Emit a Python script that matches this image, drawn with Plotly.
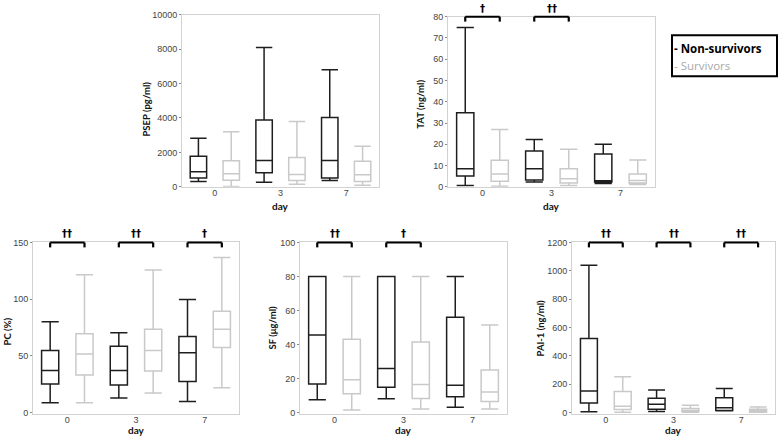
import plotly.graph_objects as go

days = ["0", "3", "7"]

# PSEP (pg/ml)
psep_ns_low = [300, 265, 360]
psep_ns_q1 = [510, 810, 510]
psep_ns_med = [870, 1530, 1530]
psep_ns_q3 = [1780, 3880, 4030]
psep_ns_high = [2820, 8090, 6800]
psep_s_low = [20, 150, 95]
psep_s_q1 = [380, 360, 300]
psep_s_med = [760, 720, 700]
psep_s_q3 = [1520, 1700, 1480]
psep_s_high = [3200, 3800, 2350]

# TAT (ng/ml)
tat_ns_low = [0.6, 2.2, 1.6]
tat_ns_q1 = [5.1, 3.2, 2.2]
tat_ns_med = [8.5, 8.5, 2.8]
tat_ns_q3 = [34.8, 16.8, 15.4]
tat_ns_high = [74.9, 22.3, 20.0]
tat_s_low = [0.2, 0.6, 1.1]
tat_s_q1 = [2.6, 1.8, 1.8]
tat_s_med = [6.0, 3.8, 2.9]
tat_s_q3 = [12.5, 8.5, 6.0]
tat_s_high = [26.9, 17.7, 12.6]

# PC (%)
pc_ns_low = [8.6, 12.9, 9.7]
pc_ns_q1 = [25.2, 24.4, 27.5]
pc_ns_med = [37.2, 37.2, 52.7]
pc_ns_q3 = [54.7, 58.5, 67.0]
pc_ns_high = [80.2, 70.5, 99.7]
pc_s_low = [8.6, 17.2, 21.8]
pc_s_q1 = [33.2, 36.7, 57.3]
pc_s_med = [51.6, 54.7, 73.4]
pc_s_q3 = [69.6, 73.4, 89.4]
pc_s_high = [121.5, 125.8, 136.7]

# SF (ug/ml)
sf_ns_low = [7.5, 8.0, 3.0]
sf_ns_q1 = [16.8, 14.8, 9.3]
sf_ns_med = [45.5, 25.8, 16.0]
sf_ns_q3 = [80, 80, 56]
sf_ns_high = [80, 80, 80]
sf_s_low = [1.5, 2.0, 2.0]
sf_s_q1 = [11.0, 8.2, 6.5]
sf_s_med = [19.3, 16.5, 12.0]
sf_s_q3 = [43.0, 41.5, 25.0]
sf_s_high = [80, 80, 51.5]

# PAI-1 (ng/ml)
pai_ns_low = [5, 7, 12]
pai_ns_q1 = [67, 23, 14]
pai_ns_med = [152, 59, 34]
pai_ns_q3 = [522, 101, 105]
pai_ns_high = [1039, 159, 170]
pai_s_low = [2, 2, 2]
pai_s_q1 = [21, 7, 4]
pai_s_med = [44, 14, 14]
pai_s_q3 = [149, 28, 23]
pai_s_high = [253, 52, 39]

# significance markers per day
psep_sig = ["", "", ""]
tat_sig = ["\u2020", "\u2020\u2020", ""]
pc_sig = ["\u2020\u2020", "\u2020\u2020", "\u2020"]
sf_sig = ["\u2020\u2020", "\u2020", ""]
pai_sig = ["\u2020\u2020", "\u2020\u2020", "\u2020\u2020"]

W, H = 779, 441
NS_COLOR = "#1e1e1e"
S_COLOR = "#c9c9c9"
TITLE_FONT = "Lato"
TICK_FONT = "Liberation Sans"

panels = [
    dict(title="PSEP (pg/ml)", ns=(psep_ns_low, psep_ns_q1, psep_ns_med, psep_ns_q3, psep_ns_high),
         s=(psep_s_low, psep_s_q1, psep_s_med, psep_s_q3, psep_s_high), sig=psep_sig,
         px=(182, 379), py=(10, 186), yr=[0, 10000], dt=2000, tx=147, ty=107, dayy=206),
    dict(title="TAT (ng/ml)", ns=(tat_ns_low, tat_ns_q1, tat_ns_med, tat_ns_q3, tat_ns_high),
         s=(tat_s_low, tat_s_q1, tat_s_med, tat_s_q3, tat_s_high), sig=tat_sig,
         px=(448, 655), py=(12, 186), yr=[0, 80], dt=10, tx=421, ty=102, dayy=206),
    dict(title="PC (%)", ns=(pc_ns_low, pc_ns_q1, pc_ns_med, pc_ns_q3, pc_ns_high),
         s=(pc_s_low, pc_s_q1, pc_s_med, pc_s_q3, pc_s_high), sig=pc_sig,
         px=(33, 239), py=(243, 419), yr=[-1.7, 150], dt=50, tx=7, ty=334, dayy=None),
    dict(title="SF (\u03bcg/ml)", ns=(sf_ns_low, sf_ns_q1, sf_ns_med, sf_ns_q3, sf_ns_high),
         s=(sf_s_low, sf_s_q1, sf_s_med, sf_s_q3, sf_s_high), sig=sf_sig,
         px=(300, 507), py=(243, 419), yr=[-1.2, 100], dt=20, tx=272, ty=331, dayy=None),
    dict(title="PAI-1 (ng/ml)", ns=(pai_ns_low, pai_ns_q1, pai_ns_med, pai_ns_q3, pai_ns_high),
         s=(pai_s_low, pai_s_q1, pai_s_med, pai_s_q3, pai_s_high), sig=pai_sig,
         px=(572, 775), py=(243, 419), yr=[-14, 1200], dt=200, tx=540, ty=331, dayy=None),
]

fig = go.Figure()
shapes = []
annotations = []
layout = {}

for i, p in enumerate(panels, start=1):
    sfx = "" if i == 1 else str(i)
    xa, ya = "x" + sfx, "y" + sfx
    for name, stats, col in (("Non-survivors", p["ns"], NS_COLOR), ("Survivors", p["s"], S_COLOR)):
        low, q1, med, q3, high = stats
        fig.add_trace(go.Box(
            x=days, lowerfence=low, q1=q1, median=med, q3=q3, upperfence=high,
            name=name, xaxis=xa, yaxis=ya, boxpoints=False, whiskerwidth=1,
            line=dict(color=col, width=1.5), fillcolor="rgba(255,255,255,0)",
            showlegend=False, hoverinfo="skip", offsetgroup=name,
        ))
    x0, x1 = p["px"]
    t, b = p["py"]
    layout["xaxis" + sfx] = dict(
        domain=[x0 / W, x1 / W], anchor=ya, type="category", range=[-0.5, 2.5],
        showline=True, mirror=True, linecolor="#d2d2d2", linewidth=1, ticks="",
        ticklabelstandoff=-3,
        showgrid=False, zeroline=False, tickfont=dict(family=TICK_FONT, size=9, color="#444"),
        fixedrange=True,
    )
    layout["yaxis" + sfx] = dict(
        domain=[1 - b / H, 1 - t / H], anchor=xa, range=p["yr"], tick0=0, dtick=p["dt"],
        tickformat="d",
        showline=True, mirror=True, linecolor="#d2d2d2", linewidth=1, ticks="outside",
        ticklen=2, tickcolor="#888", showgrid=False, zeroline=False,
        tickfont=dict(family=TICK_FONT, size=9, color="#444"), fixedrange=True,
    )
    # axis titles
    annotations.append(dict(text="<b>" + p["title"] + "</b>", x=p["tx"] / W, y=1 - p["ty"] / H,
                            xref="paper", yref="paper", textangle=-90, showarrow=False,
                            xanchor="center", yanchor="middle",
                            font=dict(family=TITLE_FONT, size=9.5, color="#111")))
    if p["dayy"] is None:
        day_pos = dict(y=0, yanchor="bottom", yshift=-2)
    else:
        day_pos = dict(y=1 - p["dayy"] / H, yanchor="middle")
    annotations.append(dict(text="<b>day</b>", x=(x0 + x1) / 2 / W,
                            xref="paper", yref="paper", showarrow=False, xanchor="center",
                            font=dict(family=TITLE_FONT, size=10, color="#111"), **day_pos))
    # significance brackets
    leg = 5 / (b - t)
    for k, s in enumerate(p["sig"]):
        if not s:
            continue
        bx0, bx1 = k - 0.25, k + 0.25
        line = dict(color="black", width=2.2)
        shapes.append(dict(type="line", xref=xa, yref=ya + " domain", x0=bx0, x1=bx1, y0=1, y1=1, line=line))
        shapes.append(dict(type="line", xref=xa, yref=ya + " domain", x0=bx0, x1=bx0, y0=1, y1=1 - leg, line=line))
        shapes.append(dict(type="line", xref=xa, yref=ya + " domain", x0=bx1, x1=bx1, y0=1, y1=1 - leg, line=line))
        annotations.append(dict(text="<b>" + s + "</b>", x=k, y=1, xref=xa, yref=ya + " domain",
                                showarrow=False, xanchor="center", yanchor="bottom", yshift=1,
                                font=dict(family="DejaVu Sans", size=10, color="black")))

# legend box
shapes.append(dict(type="rect", xref="paper", yref="paper", x0=672 / W, x1=777 / W,
                   y0=1 - 73 / H, y1=1 - 31 / H, line=dict(color="black", width=2)))
annotations.append(dict(text="<b>- Non-survivors</b>", x=672 / W, y=1 - 45 / H, xref="paper", yref="paper",
                        showarrow=False, xanchor="left", yanchor="middle",
                        font=dict(family="Open Sans", size=11.5, color="black")))
annotations.append(dict(text="- Survivors", x=672 / W, y=1 - 62 / H, xref="paper", yref="paper",
                        showarrow=False, xanchor="left", yanchor="middle",
                        font=dict(family="Open Sans", size=11.5, color="#a8a8a8")))

fig.update_layout(
    width=W, height=H, margin=dict(l=0, r=0, t=0, b=0),
    paper_bgcolor="white", plot_bgcolor="white",
    boxmode="group", boxgap=0, boxgroupgap=0.5,
    shapes=shapes, annotations=annotations, showlegend=False,
    **layout,
)

fig.write_html("out.html", config={"displayModeBar": False},
               post_script="document.body.style.margin='0';")
